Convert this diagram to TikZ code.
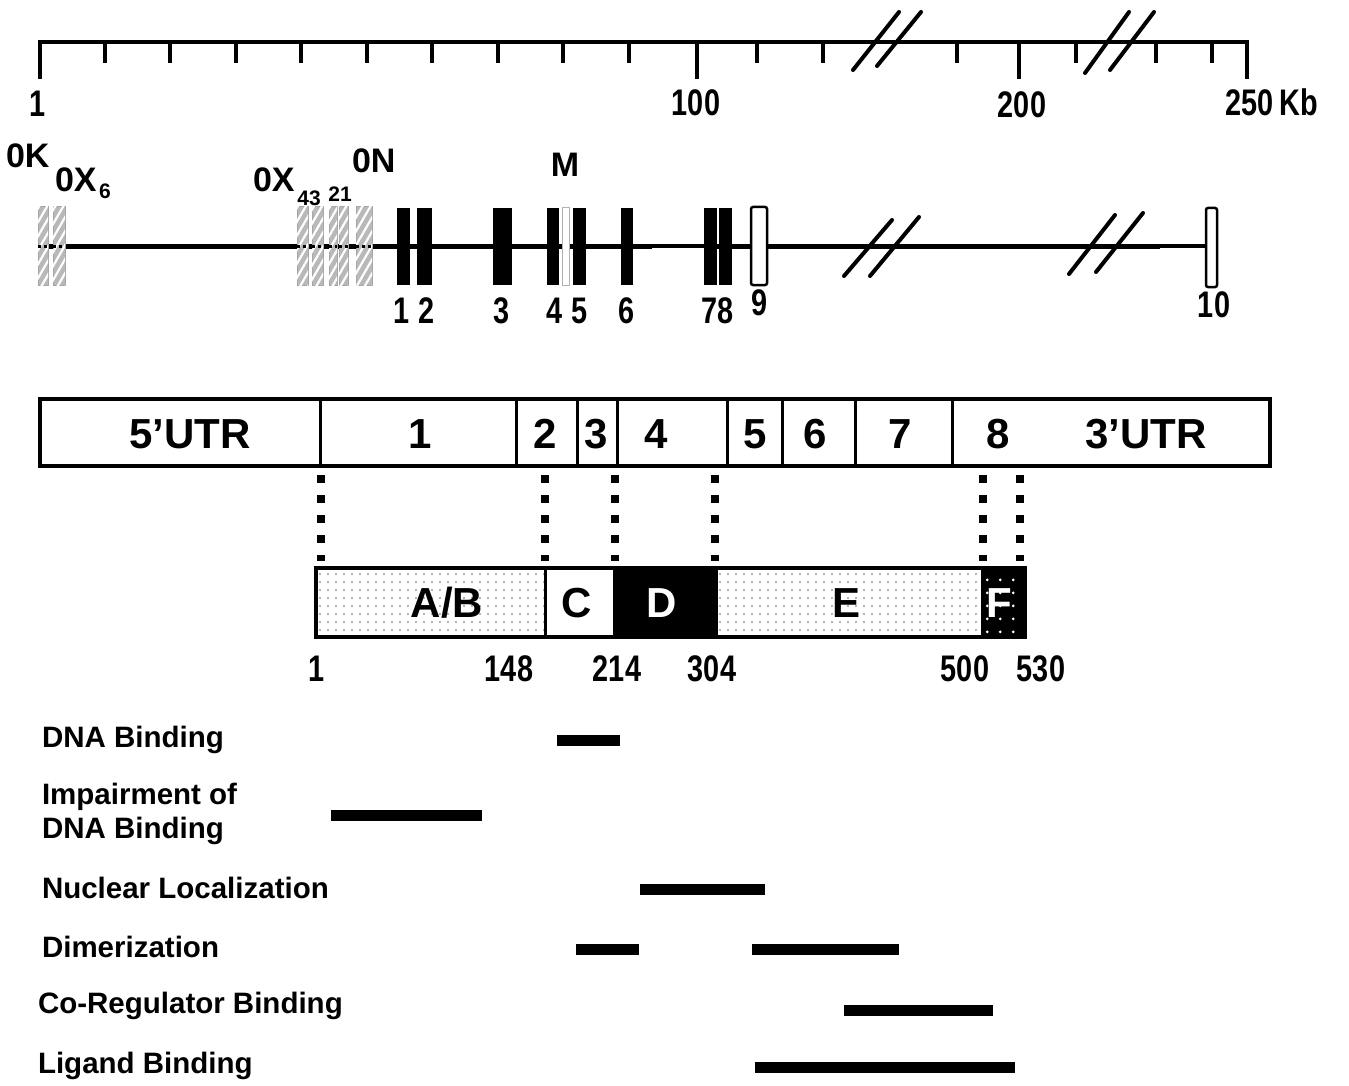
\documentclass[tikz,border=0pt]{standalone}
\usepackage{fontspec}
\setmainfont{Liberation Sans}
\newfontfamily\condf{Liberation Sans}[FakeStretch=0.78]
\usetikzlibrary{patterns.meta}
\begin{document}
\begin{tikzpicture}[x=1pt,y=-1pt,
  every node/.style={inner sep=0pt, outer sep=0pt},
  numlbl/.style={font=\condf\bfseries\fontsize{37}{40}\selectfont, anchor=base},
  genelbl/.style={font=\bfseries\fontsize{34}{36}\selectfont, anchor=base west},
  sublbl/.style={font=\bfseries\fontsize{21}{22}\selectfont, anchor=base},
  boxlbl/.style={font=\bfseries\fontsize{42}{44}\selectfont},
  funclbl/.style={font=\bfseries\fontsize{29.5}{34}\selectfont, anchor=west, align=left},
  rulerline/.style={line width=4.5pt},
  tickmark/.style={line width=4pt},
  breakmark/.style={line width=4pt, line cap=round},
  hatchbox/.style={draw=gray!70, line width=1pt, fill=gray!55, postaction={pattern={Lines[angle=60,distance=7pt,line width=2.2pt]}, pattern color=white}},
  openexon/.style={draw=black, line width=2.5pt, fill=white, rounded corners=2pt},
  dotcon/.style={line width=7.5pt, dash pattern=on 8pt off 12pt},
  bar/.style={line width=11pt},
  speckle/.style={fill=white, postaction={pattern={Dots[distance=8pt,radius=1.1pt]}, pattern color=gray!80}},
]
\useasboundingbox (0,0) rectangle (1349,1086);

% ---------------- scale ruler ----------------
\draw[rulerline] (40,79) -- (40,42) -- (1247,42) -- (1247,79);
\foreach \t in {105,170,236,301,367,432,498,563,629,757,823,957,1076,1156,1212}
  \draw[tickmark] (\t,42) -- (\t,63);
\draw[tickmark] (697,42) -- (697,79);
\draw[tickmark] (1019,42) -- (1019,79);
\draw[breakmark] (853,70) -- (899,12);
\draw[breakmark] (877,66) -- (921,12);
\draw[breakmark] (1085,73) -- (1129,12);
\draw[breakmark] (1110,70) -- (1154,12);
\node[numlbl] (r1) at (38,117) {1};
\node[numlbl] (r100) at (696,116) {100};
\node[numlbl, anchor=base west] (r250) at (1225,116) {250\,Kb};
\node[numlbl] (r200) at (1022,118) {200};

% ---------------- gene ----------------
\draw[line width=5pt] (38,246) -- (652,246);
\draw[line width=3.5pt] (652,246) -- (704,246);
\draw[line width=5pt] (704,246) -- (1160,246);
\draw[line width=3.5pt] (1160,246) -- (1206,246);

\foreach \a/\b in {38/48,53/65,297/308,312/323,329/337,339/348,356/372}{
  \draw[hatchbox] (\a,207) rectangle (\b,285);
  \draw[line width=3pt, dash pattern=on 3pt off 3pt] (\a,246) -- (\b,246);
}
\foreach \a/\b in {397/410,417/432,493/512,547/559,573/586,621/633,704/717,719/732}
  \fill[black] (\a,208) rectangle (\b,285);
\draw[gray!60, line width=1pt, fill=white] (562,208) rectangle (569,285);
\draw[openexon] (751,207) rectangle (767,285);
\draw[openexon] (1206,208) rectangle (1217,287);

\draw[breakmark] (844,276) -- (892,220);
\draw[breakmark] (870,276) -- (919,217);
\draw[breakmark] (1069,274) -- (1115,215);
\draw[breakmark] (1096,272) -- (1143,213);

\node[genelbl] (g0k) at (6,168) {0K};
\node[genelbl] (g0x6) at (55,192) {0X};
\node[sublbl] (s6) at (105,199) {6};
\node[genelbl] (g0x4) at (253,192) {0X};
\node[sublbl] (s43) at (309,206) {43};
\node[sublbl] (s21) at (340,202) {21};
\node[genelbl] (g0n) at (352,173) {0N};
\node[genelbl, anchor=base] (gm) at (565,177) {M};

\node[numlbl] (e1) at (402,323) {1};
\node[numlbl] (e2) at (427,323) {2};
\node[numlbl] (e3) at (502,323) {3};
\node[numlbl] (e4) at (555,323) {4};
\node[numlbl] (e5) at (580,323) {5};
\node[numlbl] (e6) at (627,323) {6};
\node[numlbl] (e7) at (710,323) {7};
\node[numlbl] (e8) at (726,323) {8};
\node[numlbl] (e9) at (760,315) {9};
\node[numlbl] (e10) at (1214,317) {10};

% ---------------- mRNA ----------------
\draw[line width=4.5pt] (40,399) rectangle (1270,466);
\foreach \d in {320,516,577,617,727,782,855,952}
  \draw[line width=3pt] (\d,399) -- (\d,466);
\node[boxlbl] (u5) at (190,434) {5’UTR};
\node[boxlbl] (x1) at (420,434) {1};
\node[boxlbl] (x2) at (545,434) {2};
\node[boxlbl] (x3) at (596,434) {3};
\node[boxlbl] (x4) at (656,434) {4};
\node[boxlbl] (x5) at (755,434) {5};
\node[boxlbl] (x6) at (815,434) {6};
\node[boxlbl] (x7) at (900,434) {7};
\node[boxlbl] (x8) at (998,434) {8};
\node[boxlbl] (u3) at (1146,434) {3’UTR};

% ---------------- connectors ----------------
\foreach \n/\x in {a/321,b/545,c/615,d/715,e/983,f/1020}{
  \coordinate (m\n) at (\x,475);
  \coordinate (p\n) at (\x,561);
  \draw[dotcon] (m\n) -- (p\n);
}

% ---------------- protein ----------------
\path[speckle] (316,568) rectangle (545,637);
\fill[white] (545,568) rectangle (614,637);
\fill[black] (614,568) rectangle (716,637);
\path[speckle] (716,568) rectangle (982,637);
\fill[black] (982,568) rectangle (1025,637);
\path[pattern={Dots[distance=13pt,radius=1.6pt]}, pattern color=white] (982,568) rectangle (1025,637);
\draw[line width=4.5pt] (316,568) rectangle (1025,637);
\foreach \d in {545,614,716,982}
  \draw[line width=3pt] (\d,568) -- (\d,637);
\node[boxlbl] (dab) at (447,603) {A/B};
\node[boxlbl] (dc) at (577,603) {C};
\node[boxlbl, text=white] (dd) at (662,603) {D};
\node[boxlbl] (de) at (846,603) {E};
\node[boxlbl, text=white] (df) at (999,603) {F};

\node[numlbl] (n1) at (317,681) {1};
\node[numlbl] (n148) at (509,681) {148};
\node[numlbl] (n214) at (617,681) {214};
\node[numlbl] (n304) at (712,681) {304};
\node[numlbl] (n500) at (965,681) {500};
\node[numlbl] (n530) at (1041,681) {530};

% ---------------- functions ----------------
\node[funclbl] (f1) at (42,740) {DNA Binding};
\node[funclbl] (f2) at (42,814) {Impairment of\\DNA Binding};
\node[funclbl] (f3) at (42,888) {Nuclear Localization};
\node[funclbl] (f4) at (42,947) {Dimerization};
\node[funclbl] (f5) at (38,1006) {Co-Regulator Binding};
\node[funclbl] (f6) at (38,1066) {Ligand Binding};

\draw[bar] (557,740) -- (620,740);
\draw[bar] (331,815) -- (482,815);
\draw[bar] (640,889) -- (765,889);
\draw[bar] (576,949) -- (639,949);
\draw[bar] (752,949) -- (899,949);
\draw[bar] (844,1010) -- (993,1010);
\draw[bar] (755,1067) -- (1015,1067);
\end{tikzpicture}
\end{document}
